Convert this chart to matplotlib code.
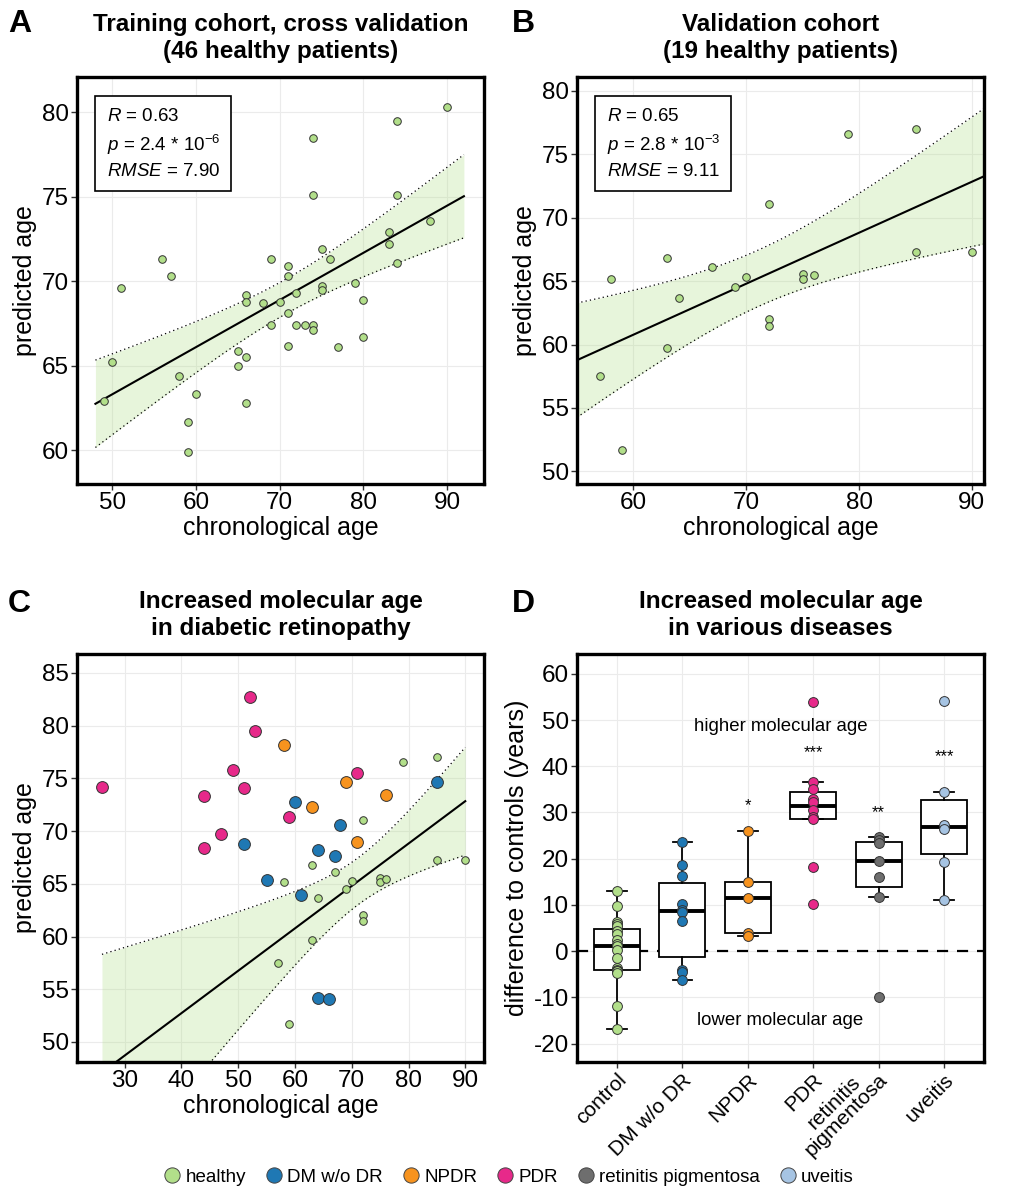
import numpy as np
import matplotlib
matplotlib.use("Agg")
import matplotlib.pyplot as plt
from matplotlib.lines import Line2D

plt.rcParams['font.family'] = ['Liberation Sans', 'DejaVu Sans']
plt.rcParams['mathtext.fontset'] = 'custom'
plt.rcParams['mathtext.rm'] = 'Liberation Sans'
plt.rcParams['mathtext.it'] = 'Liberation Sans:italic'
plt.rcParams['axes.unicode_minus'] = False

# group colours
col_healthy = '#B2DF8A'
col_dm = '#1F78B4'
col_npdr = '#F7931E'
col_pdr = '#E7298A'
col_rp = '#6E6E6E'
col_uveitis = '#A6C4E3'

# A: training cohort, cross validation
train_age = [90, 84, 74, 74, 84, 88, 83, 83, 84, 75, 76, 69, 71, 71, 56, 57, 51, 79,
             75, 75, 72, 66, 66, 68, 70, 80, 71, 69, 72, 73, 74, 74, 80, 71, 77, 65,
             66, 65, 50, 58, 49, 60, 66, 59, 59]
train_pred = [80.3, 79.5, 78.5, 75.1, 75.1, 73.6, 72.9, 72.2, 71.1, 71.9, 71.3, 71.3,
              70.9, 70.3, 71.3, 70.3, 69.6, 69.9, 69.7, 69.5, 69.3, 69.2, 68.8, 68.7,
              68.8, 68.9, 68.1, 67.4, 67.4, 67.4, 67.4, 67.1, 66.7, 66.2, 66.1, 65.9,
              65.5, 65.0, 65.2, 64.4, 62.9, 63.3, 62.8, 61.7, 59.9]
train_stats = [r'$R$ = 0.63', r'$p$ = 2.4 * 10$^{-6}$', r'$RMSE$ = 7.90']

# B: validation cohort (healthy), also shown in C
valid_age = [79, 85, 72, 63, 67, 58, 70, 69, 75, 75, 76, 64, 85, 90, 72, 72, 63, 57, 59]
valid_pred = [76.6, 77.0, 71.1, 66.8, 66.1, 65.2, 65.3, 64.5, 65.6, 65.2, 65.5, 63.7,
              67.3, 67.3, 62.0, 61.5, 59.7, 57.5, 51.7]
valid_stats = [r'$R$ = 0.65', r'$p$ = 2.8 * 10$^{-3}$', r'$RMSE$ = 9.11']

# C: diseased patients
dm_age = [85, 60, 68, 51, 64, 67, 55, 61, 64, 66]
dm_pred = [74.7, 72.8, 70.6, 68.8, 68.2, 67.6, 65.4, 63.9, 54.2, 54.1]
npdr_age = [58, 69, 63, 76, 71]
npdr_pred = [78.2, 74.7, 72.3, 73.4, 69.0]
pdr_age = [52, 53, 49, 71, 26, 51, 44, 59, 47, 44]
pdr_pred = [82.7, 79.5, 75.8, 75.5, 74.2, 74.1, 73.3, 71.3, 69.7, 68.4]

# D: difference to controls
groups = ['control', 'DM w/o DR', 'NPDR', 'PDR', 'retinitis\npigmentosa', 'uveitis']
diff_control = [13.0, 9.7, 6.3, 5.9, 5.4, 4.3, 3.6, 2.4, 1.5, 1.1, 0.2, -1.4, -3.6,
                -4.1, -4.2, -4.4, -4.8, -11.9, -16.9]
diff_dm = [23.6, 18.6, 16.2, 10.1, 8.9, 8.4, 6.5, -4.0, -4.5, -6.2]
diff_npdr = [26.0, 15.0, 11.5, 4.0, 3.3]
diff_pdr = [54.0, 36.6, 35.0, 33.0, 32.2, 30.6, 29.0, 28.5, 18.2, 10.3]
diff_rp = [24.7, 24.0, 23.3, 19.6, 16.1, 11.7, -9.9]
diff_uveitis = [54.1, 34.4, 27.4, 26.4, 19.3, 11.1]
stars = ['', '', '*', '***', '**', '***']
star_y = [0, 0, 31.5, 43, 30, 42]

W, H = 1015, 1200


def t_crit(df):
    # 97.5% quantile of Student t (series approximation)
    z = 1.959964
    return (z + (z**3 + z) / (4 * df) + (5 * z**5 + 16 * z**3 + 3 * z) / (96 * df**2)
            + (3 * z**7 + 19 * z**5 + 17 * z**3 - 15 * z) / (384 * df**3))


def fit_band(x, y, xs):
    x = np.asarray(x, float)
    y = np.asarray(y, float)
    n = len(x)
    b, a = np.polyfit(x, y, 1)
    s = np.sqrt(np.sum((y - (a + b * x))**2) / (n - 2))
    sxx = np.sum((x - x.mean())**2)
    se = s * np.sqrt(1 / n + (xs - x.mean())**2 / sxx)
    fit = a + b * xs
    t = t_crit(n - 2)
    return fit, fit - t * se, fit + t * se


def axes_px(left, top, right, bottom):
    return [left / W, 1 - bottom / H, (right - left) / W, (bottom - top) / H]


def style_ax(ax):
    ax.set_axisbelow(True)
    ax.grid(True, color='#EBEBEB', lw=0.8)
    for sp in ax.spines.values():
        sp.set_linewidth(2.4)
        sp.set_color('black')
    ax.tick_params(labelsize=17.5, length=4, width=1, color='#333333', pad=2)


def labels(ax, xl, yl):
    if xl:
        ax.set_xlabel(xl, fontsize=18, labelpad=1)
    ax.set_ylabel(yl, fontsize=18, labelpad=3)


def draw_fit(ax, x, y, x0, x1):
    xs = np.linspace(x0, x1, 200)
    fit, lo, hi = fit_band(x, y, xs)
    ax.fill_between(xs, lo, hi, color=col_healthy, alpha=0.3, lw=0, zorder=1)
    ax.plot(xs, lo, color='black', lw=0.9, ls=(0, (1, 2.5)), zorder=2)
    ax.plot(xs, hi, color='black', lw=0.9, ls=(0, (1, 2.5)), zorder=2)
    ax.plot(xs, fit, color='black', lw=1.5, zorder=2)


def stats_box(ax, lines):
    ax.text(0.073, 0.925, '\n'.join(lines), transform=ax.transAxes, fontsize=13.5,
            va='top', ha='left', linespacing=1.45, zorder=5,
            bbox=dict(boxstyle='square,pad=0.6', fc='white', ec='black', lw=1.2))


def title(ax, text):
    ax.set_title(text, fontsize=17.5, fontweight='bold', pad=14, linespacing=1.2)


fig = plt.figure(figsize=(W / 100, H / 100), dpi=100)

# ---- A
axA = fig.add_axes(axes_px(77, 77, 484, 484))
style_ax(axA)
draw_fit(axA, train_age, train_pred, 48, 92)
axA.scatter(train_age, train_pred, s=30, color=col_healthy, edgecolor='#333333',
            lw=0.7, zorder=3)
axA.set_xlim(45.8, 94.4)
axA.set_ylim(58, 82.1)
axA.set_xticks([50, 60, 70, 80, 90])
axA.set_yticks([60, 65, 70, 75, 80])
labels(axA, 'chronological age', 'predicted age')
stats_box(axA, train_stats)
title(axA, 'Training cohort, cross validation\n(46 healthy patients)')

# ---- B
axB = fig.add_axes(axes_px(577, 77, 984, 484))
style_ax(axB)
draw_fit(axB, valid_age, valid_pred, 55, 91.07)
axB.scatter(valid_age, valid_pred, s=30, color=col_healthy, edgecolor='#333333',
            lw=0.7, zorder=3)
axB.set_xlim(55, 91.07)
axB.set_ylim(49, 81.1)
axB.set_xticks([60, 70, 80, 90])
axB.set_yticks([50, 55, 60, 65, 70, 75, 80])
labels(axB, 'chronological age', 'predicted age')
stats_box(axB, valid_stats)
title(axB, 'Validation cohort\n(19 healthy patients)')

# ---- C
axC = fig.add_axes(axes_px(77, 654, 484, 1062))
style_ax(axC)
draw_fit(axC, valid_age, valid_pred, 26, 90)
axC.scatter(valid_age, valid_pred, s=30, color=col_healthy, edgecolor='#333333',
            lw=0.7, zorder=3)
for xa, ya, c in [(dm_age, dm_pred, col_dm), (npdr_age, npdr_pred, col_npdr),
                  (pdr_age, pdr_pred, col_pdr)]:
    axC.scatter(xa, ya, s=72, color=c, edgecolor='#333333', lw=0.7, zorder=4)
axC.set_xlim(21.6, 93.3)
axC.set_ylim(48.1, 86.8)
axC.set_xticks([30, 40, 50, 60, 70, 80, 90])
axC.set_yticks([50, 55, 60, 65, 70, 75, 80, 85])
labels(axC, 'chronological age', 'predicted age')
title(axC, 'Increased molecular age\nin diabetic retinopathy')

# ---- D
axD = fig.add_axes(axes_px(577, 654, 984, 1062))
style_ax(axD)
diffs = [diff_control, diff_dm, diff_npdr, diff_pdr, diff_rp, diff_uveitis]
colors = [col_healthy, col_dm, col_npdr, col_pdr, col_rp, col_uveitis]
pos = np.arange(1, len(groups) + 1)
axD.axhline(0, color='black', lw=1.6, ls=(0, (5, 4)), zorder=2)
axD.boxplot(diffs, positions=pos, widths=0.7, showfliers=False, patch_artist=True,
            capwidths=0.3,
            boxprops=dict(facecolor='white', edgecolor='black', lw=1.3),
            medianprops=dict(color='black', lw=2.8),
            whiskerprops=dict(color='black', lw=1.3),
            capprops=dict(color='black', lw=1.3), zorder=2)
for p, d, c in zip(pos, diffs, colors):
    axD.scatter([p] * len(d), d, s=50, color=c, edgecolor='#333333', lw=0.7, zorder=4)
for p, st, sy in zip(pos, stars, star_y):
    if st:
        axD.text(p, sy, st, ha='center', va='center', fontsize=12)
axD.text(3.5, 48.7, 'higher molecular age', ha='center', va='center', fontsize=13.4)
axD.text(3.5, -15.0, 'lower molecular age', ha='center', va='center', fontsize=13.4)
axD.set_xlim(0.39, 6.61)
axD.set_ylim(-24, 64.3)
axD.set_yticks(np.arange(-20, 61, 10))
axD.set_xticks(pos)
axD.set_xticklabels(groups, rotation=45, ha='right', rotation_mode='anchor',
                    fontsize=15, linespacing=0.9, multialignment='center')
# two-line label sits centred on its tick
axD.get_xticklabels()[4].set_va('center')
labels(axD, None, 'difference to controls (years)')
title(axD, 'Increased molecular age\nin various diseases')

# panel letters
for lx, ly, lab in [(8, 32, 'A'), (512, 32, 'B'), (8, 612, 'C'), (512, 612, 'D')]:
    fig.text(lx / W, 1 - ly / H, lab, fontsize=23, fontweight='bold', va='baseline')

# legend
leg_names = ['healthy', 'DM w/o DR', 'NPDR', 'PDR', 'retinitis pigmentosa', 'uveitis']
handles = [Line2D([], [], ls='none', marker='o', markersize=11, mfc=c,
                  mec='#444444', mew=0.7) for c in colors]
fig.legend(handles, leg_names, loc='center', bbox_to_anchor=(0.5, 1 - 1177 / H),
           ncol=6, frameon=False, fontsize=13.5, handletextpad=0.1,
           handlelength=1.2, columnspacing=0.9)

fig.savefig('out.png', dpi=100)
